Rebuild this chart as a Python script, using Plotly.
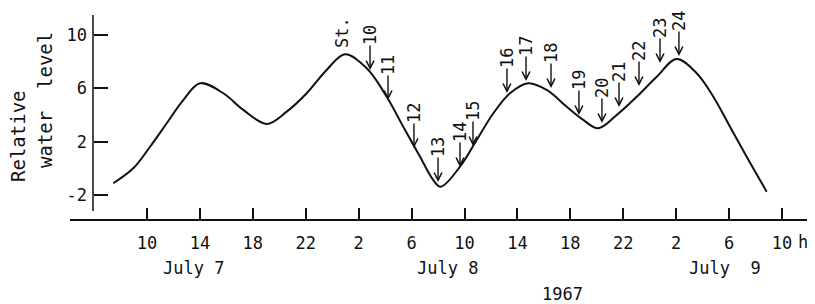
import plotly.graph_objects as go

# Curve: hours since July 7 00:00 and relative water level
hours = [7.45, 8.96, 10.23, 11.49, 12.74, 14.01, 15.77, 17.28, 19.05, 20.56, 22.07,
         23.58, 24.97, 26.61, 28.12, 29.37, 30.64, 31.64, 32.2, 33.66, 34.92,
         36.18, 37.44, 38.82, 40.21, 41.73, 42.98, 44.11, 45.51, 47.02, 48.53,
         50.04, 51.55, 52.81, 54.07, 55.33, 56.84]
level = [-1.12, 0.00, 1.62, 3.38, 5.12, 6.38, 5.63, 4.38, 3.33, 4.25, 5.63,
         7.38, 8.55, 7.50, 5.37, 3.12, 0.87, -0.88, -1.38, 0.12, 2.12,
         4.13, 5.63, 6.38, 5.88, 4.62, 3.63, 3.00, 4.00, 5.37, 6.87,
         8.20, 7.13, 5.37, 3.12, 0.87, -1.75]

# Stations (arrow tips)
station_labels = ['10', '11', '12', '13', '14', '15', '16', '17', '18', '19',
                  '20', '21', '22', '23', '24']
station_hours = [26.86, 28.22, 30.18, 32.0, 33.66, 34.64, 37.21, 38.65, 40.54,
                 42.65, 44.39, 45.68, 47.19, 48.78, 50.21]
station_levels = [7.37, 5.12, 1.52, -1.03, 0.10, 1.67, 5.65, 6.55, 6.02,
                  4.0, 3.40, 4.60, 6.17, 7.90, 8.42]
start_label = 'St.'
start_hour = 24.74
start_level = 10.15

tick_hours = [10, 14, 18, 22, 26, 30, 34, 38, 42, 46, 50, 54, 58]
tick_text = ['10', '14', '18', '22', '2', '6', '10', '14', '18', '22', '2', '6', '10']
ytick_vals = [-2, 2, 6, 10]
ytick_text = ['-2', '2', '6', '10']
date_labels = ['July 7', 'July 8', 'July&nbsp;&nbsp;9']
date_hours = [13.5, 32.7, 53.7]
year_label = '1967'
year_hour = 41.4

FONT = 'DejaVu Sans Mono'
INK = '#111111'

# The page body has an 8 px margin; the figure is sized so that the plot
# area lands at the reference position inside the 815x304 window.
BODY = 8
W, H = 815 - BODY, 304 - BODY
PL, PR, PT, PB = 70, 815, 15, 219  # plot area in window pixels

fig = go.Figure()
fig.add_trace(go.Scatter(x=hours, y=level, mode='lines',
                         line=dict(color=INK, width=2, shape='spline', smoothing=1.0),
                         hoverinfo='skip', showlegend=False))


def px_x(p):
    return (p - PL) / (PR - PL)


def px_y(p):
    return (PB - p) / (PB - PT)


def note(**kw):
    d = dict(xanchor='center', yanchor='middle', showarrow=False)
    d.update(kw)
    return d


annotations = []
for lab, h, v in zip(station_labels, station_hours, station_levels):
    annotations.append(dict(x=h, y=v, xref='x', yref='y', text=lab, textangle=-90,
                            showarrow=True, arrowhead=5, arrowsize=1.1, arrowwidth=1.4,
                            arrowcolor=INK, ax=0, ay=-35, borderpad=0,
                            font=dict(family=FONT, size=17, color=INK)))
annotations.append(note(x=start_hour, y=start_level, xref='x', yref='y', text=start_label,
                        textangle=-90, font=dict(family=FONT, size=17, color=INK)))
for lab, h in zip(date_labels, date_hours):
    annotations.append(note(x=h, y=px_y(268), xref='x', yref='paper', text=lab,
                            font=dict(family=FONT, size=17, color=INK)))
annotations.append(note(x=year_hour, y=px_y(294), xref='x', yref='paper', text=year_label,
                        font=dict(family=FONT, size=17, color=INK)))
annotations.append(note(x=px_x(803), y=px_y(242), xref='paper', yref='paper', text='h',
                        font=dict(family=FONT, size=17, color=INK)))
annotations.append(note(x=px_x(18), y=px_y(136), xref='paper', yref='paper',
                        text='Relative', textangle=-90,
                        font=dict(family=FONT, size=19, color=INK)))
annotations.append(note(x=px_x(45), y=px_y(140), xref='paper', yref='paper',
                        text='water', textangle=-90,
                        font=dict(family=FONT, size=19, color=INK)))
annotations.append(note(x=px_x(45), y=px_y(61), xref='paper', yref='paper',
                        text='level', textangle=-90,
                        font=dict(family=FONT, size=19, color=INK)))

px_per_h = 635 / 48
x0 = 10 - 77 / px_per_h
x1 = 10 + 668 / px_per_h
ypos = px_x(93)

fig.update_layout(
    width=W, height=H,
    margin=dict(l=PL - BODY, r=0, t=PT - BODY, b=H + BODY - PB, autoexpand=False),
    paper_bgcolor='white', plot_bgcolor='white',
    showlegend=False,
    annotations=annotations,
    xaxis=dict(range=[x0, x1], showgrid=False, zeroline=False,
               showline=True, linecolor=INK, linewidth=1.5,
               ticks='inside', ticklen=11, tickwidth=1.5, tickcolor=INK,
               tickvals=tick_hours, ticktext=tick_text, ticklabelstandoff=8,
               tickfont=dict(family=FONT, size=17, color=INK)),
    yaxis=dict(range=[-3.8, 11.5], showgrid=False, zeroline=False,
               anchor='free', position=ypos, showline=False,
               ticks='inside', ticklen=14, tickwidth=1.5, tickcolor=INK,
               tickvals=ytick_vals, ticktext=ytick_text, ticklabelstandoff=6,
               tickfont=dict(family=FONT, size=17, color=INK)),
    shapes=[dict(type='line', xref='paper', yref='y', x0=ypos, x1=ypos,
                 y0=-3.2, y1=11.5, line=dict(color=INK, width=1.5))],
)

fig.write_html('out.html')
